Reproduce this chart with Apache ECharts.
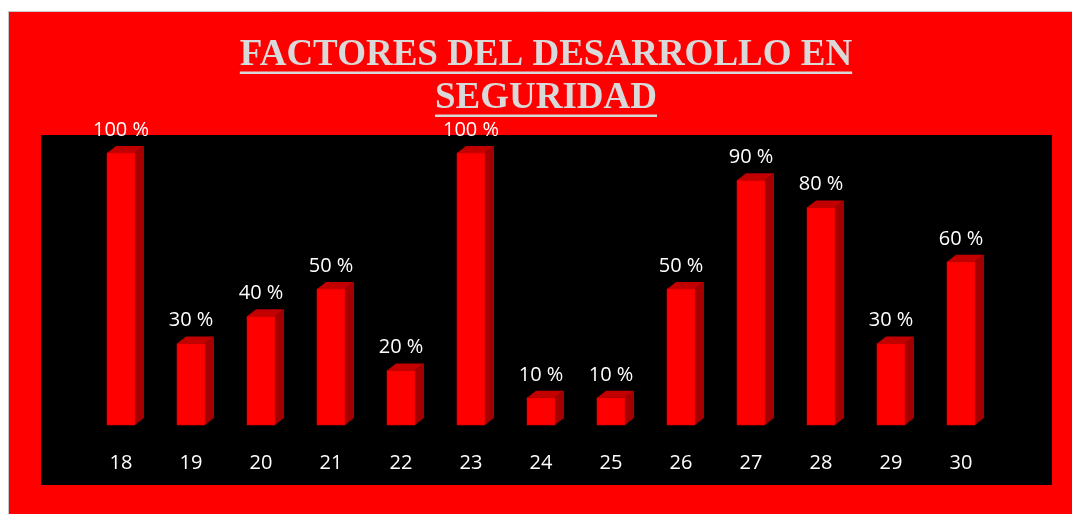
<!DOCTYPE html>
<html>
<head>
<meta charset="utf-8">
<script src="https://cdn.jsdelivr.net/npm/echarts@6/dist/echarts.min.js"></script>
<style>
  html, body { margin: 0; padding: 0; background: #fff; }
  #chart { width: 1072px; height: 514px; }
</style>
</head>
<body>
<div id="chart"></div>
<script>
// datos del grafico
var categorias = ['18', '19', '20', '21', '22', '23', '24', '25', '26', '27', '28', '29', '30'];
var valores = [100, 30, 40, 50, 20, 100, 10, 10, 50, 90, 80, 30, 60];
var tituloLineas = ['FACTORES DEL DESARROLLO EN', 'SEGURIDAD'];

var myChart = echarts.init(document.getElementById('chart'));

var fuenteTitulo = 'bold 37px "Liberation Serif", "Times New Roman", serif';
var fuenteTexto = '"Open Sans", "Noto Sans", sans-serif';
var ctx = document.createElement('canvas').getContext('2d');
ctx.font = fuenteTitulo;

var graficos = [
  // fondo rojo con borde gris
  { type: 'rect', z: -10, shape: { x: 8.5, y: 11.5, width: 1070, height: 510 },
    style: { fill: '#FF0000', stroke: '#C8C8C8', lineWidth: 1 } },
  // area negra del grafico
  { type: 'rect', z: -9, shape: { x: 41, y: 135, width: 1011, height: 350 },
    style: { fill: '#000000' } }
];
var baseLineas = [66, 109];
for (var i = 0; i < tituloLineas.length; i++) {
  var w = ctx.measureText(tituloLineas[i]).width;
  graficos.push({
    type: 'text', x: 546, y: baseLineas[i] - 29,
    style: { text: tituloLineas[i], font: fuenteTitulo, fill: '#D9D9D9',
             align: 'center', verticalAlign: 'top' }
  });
  graficos.push({
    type: 'rect', shape: { x: 546 - w / 2, y: baseLineas[i] + 5.5, width: w, height: 2.5 },
    style: { fill: '#D9D9D9' }
  });
}

var datos = [];
for (var j = 0; j < valores.length; j++) {
  datos.push([j, valores[j]]);
}

function barra3d(params, api) {
  var base = api.coord([api.value(0), 0]);
  var top = api.coord([api.value(0), api.value(1)]);
  var w = api.size([1, 0])[0] * 0.4;
  var dx = 9, dy = 7;
  var x = base[0] - w / 2;
  return {
    type: 'group',
    children: [
      { type: 'polygon', shape: { points: [[x + w, top[1]], [x + w + dx, top[1] - dy], [x + w + dx, base[1] - dy], [x + w, base[1]]] },
        style: { fill: '#A40000' } },
      { type: 'polygon', shape: { points: [[x, top[1]], [x + dx, top[1] - dy], [x + w + dx, top[1] - dy], [x + w, top[1]]] },
        style: { fill: '#C20000' } },
      { type: 'rect', shape: { x: x, y: top[1], width: w, height: base[1] - top[1] },
        style: { fill: '#FF0000', stroke: '#D00000', lineWidth: 0.6 } },
      { type: 'text', x: base[0], y: top[1] - 23,
        style: { text: api.value(1) + ' %', fill: '#FFFFFF', align: 'center', verticalAlign: 'middle',
                 font: '20px ' + fuenteTexto } }
    ]
  };
}

option = {
  backgroundColor: '#FFFFFF',
  animation: false,
  graphic: graficos,
  grid: { left: 86, right: 76, top: 153, bottom: 89 },
  xAxis: {
    type: 'category',
    data: categorias,
    axisLine: { show: false },
    axisTick: { show: false },
    axisLabel: { color: '#FFFFFF', fontSize: 20, fontFamily: fuenteTexto, margin: 28 }
  },
  yAxis: {
    type: 'value', min: 0, max: 100, show: false
  },
  series: [{
    type: 'custom',
    renderItem: barra3d,
    data: datos,
    clip: false
  }]
};

myChart.setOption(option);
</script>
</body>
</html>
